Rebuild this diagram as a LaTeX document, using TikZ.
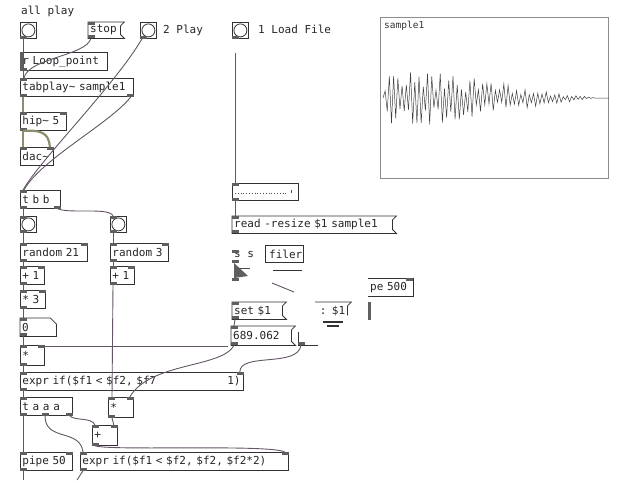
\documentclass[tikz,border=0pt]{standalone}
\usepackage{fontspec}
\newfontfamily\pdmono{DejaVu Sans Mono}
\usetikzlibrary{calc}
\definecolor{ctlcol}{RGB}{100,86,102}
\definecolor{sigcol}{RGB}{140,140,110}
\definecolor{iocol}{RGB}{95,95,95}
\definecolor{boxcol}{RGB}{50,50,50}
\tikzset{
  pdtext/.style={font=\pdmono\fontsize{11}{12}\selectfont, text=black!85},
  obj/.style={pdtext, draw=boxcol, line width=0.8pt, anchor=north west, inner xsep=2pt, inner ysep=0pt, minimum height=18pt, align=left},
  msgt/.style={pdtext, draw=none, anchor=north west, inner xsep=2pt, inner ysep=0pt, minimum height=18pt, align=left},
  boxline/.style={draw=boxcol, line width=0.8pt},
  bangbox/.style={draw=boxcol, line width=0.8pt, anchor=north west, minimum size=16pt, inner sep=0pt},
  io/.style={fill=iocol},
  ctl/.style={draw=ctlcol, line width=0.9pt},
  sig/.style={draw=sigcol, line width=2.2pt},
  cmt/.style={pdtext, anchor=base west, inner sep=0pt},
  wave/.style={draw=black!75, line width=0.5pt},
}
\newcommand\pdinL[1]{\fill[io] (#1.north west) rectangle ++(7,3);}
\newcommand\pdinR[1]{\fill[io] (#1.north east) rectangle ++(-7,3);}
\newcommand\pdoutL[1]{\fill[io] (#1.south west) rectangle ++(7,-3);}
\newcommand\pdoutR[1]{\fill[io] (#1.south east) rectangle ++(-7,-3);}
\newcommand\pdmsgshape[1]{\draw[boxline] (#1.north west) -- ($(#1.north east)+(4,0)$) -- ($(#1.north east)+(0,4)$) -- ($(#1.south east)+(0,-4)$) -- ($(#1.south east)+(4,0)$) -- (#1.south west) -- cycle;}
\newcommand\pdnumshape[1]{\draw[boxline] (#1.north west) -- ($(#1.north east)+(-6,0)$) -- ($(#1.north east)+(0,6)$) -- (#1.south east) -- (#1.south west) -- cycle;}
\newcommand\pdbang[1]{\draw[boxline] (#1.center) circle (6.5);}
\begin{document}
\begin{tikzpicture}[x=1pt,y=-1pt]
\useasboundingbox[fill=white] (0,0) rectangle (640,480);

% ---- comments
\node[cmt] (cAll) at (21,14) {all play};
\node[cmt] (cPlay) at (163,33) {2 Play};
\node[cmt] (cLoad) at (258,33) {1 Load File};

% ---- top row
\node[bangbox] (b1) at (20,22) {}; \pdbang{b1} \pdoutL{b1}
\node[msgt, text width=28pt, minimum height=16pt] (stop) at (88,22) {stop}; \pdmsgshape{stop} \pdinL{stop} \pdoutL{stop}
\node[bangbox] (b2) at (140,22) {}; \pdbang{b2} \pdoutL{b2}
\node[bangbox] (b3) at (232,22) {}; \pdbang{b3} \pdoutL{b3}

% ---- left chain
\node[obj, text width=83pt] (rloop) at (20,52) {r Loop\_point}; \fill[io] (rloop.north west) rectangle ++(3,18); \pdoutL{rloop}
\node[obj, text width=109pt] (tabp) at (20,78) {tabplay\textasciitilde{} sample1}; \pdinL{tabp} \pdoutL{tabp} \pdoutR{tabp}
\node[obj, text width=42pt] (hip) at (20,112) {hip\textasciitilde{} 5}; \pdinL{hip} \pdinR{hip} \pdoutL{hip}
\node[obj, text width=29pt] (dac) at (20,147) {dac\textasciitilde}; \pdinL{dac} \pdinR{dac}
\node[obj, text width=36pt] (tbb) at (20,190) {t b b}; \pdinL{tbb} \pdoutL{tbb} \pdoutR{tbb}
\node[bangbox] (bL) at (20,216) {}; \pdbang{bL} \pdinL{bL} \pdoutL{bL}
\node[bangbox] (bR) at (110,216) {}; \pdbang{bR} \pdinL{bR} \pdoutL{bR}
\node[obj, text width=63pt] (r21) at (20,243) {random 21}; \pdinL{r21} \pdinR{r21} \pdoutL{r21}
\node[obj, text width=54pt] (r3) at (110,243) {random 3}; \pdinL{r3} \pdinR{r3} \pdoutL{r3}
\node[obj, text width=20pt] (p1L) at (20,266) {+ 1}; \pdinL{p1L} \pdinR{p1L} \pdoutL{p1L}
\node[obj, text width=20pt] (p1R) at (110,266) {+ 1}; \pdinL{p1R} \pdinR{p1R} \pdoutL{p1R}
\node[obj, text width=21pt] (t3) at (20,290) {* 3}; \pdinL{t3} \pdinR{t3} \pdoutL{t3}
\node[msgt, text width=32pt] (n0) at (20,318) {0}; \pdnumshape{n0} \pdinL{n0} \pdoutL{n0}
\node[obj, text width=20pt, minimum height=20pt] (mL) at (20,345) {*}; \pdinL{mL} \pdinR{mL} \pdoutL{mL}
\node[obj, text width=219pt] (ex1) at (20,372) {expr if(\$f1 < \$f2, \$f7}; \pdinL{ex1} \pdinR{ex1} \pdoutL{ex1}
\node[pdtext, anchor=east, inner sep=0pt] (ex1b) at ($(ex1.east)+(-3,0)$) {1)};
\node[obj, text width=48pt] (taaa) at (20,397) {t a a a}; \pdinL{taaa} \pdoutL{taaa} \pdoutR{taaa}
\fill[io] ($(taaa.south west)+(22,0)$) rectangle ++(7,-3);
\node[obj, text width=21pt, minimum height=20pt] (mR) at (108,397) {*}; \pdinL{mR} \pdinR{mR} \pdoutL{mR}
\node[obj, text width=21pt, minimum height=20pt] (plus) at (92,425) {+}; \pdinL{plus} \pdinR{plus} \pdoutL{plus}
\node[obj, text width=48pt] (pipe) at (20,452) {pipe 50}; \pdinL{pipe} \pdinR{pipe} \pdoutL{pipe}
\node[obj, text width=204pt] (ex2) at (80,452) {expr if(\$f1 < \$f2, \$f2, \$f2*2)}; \pdinL{ex2} \pdinR{ex2} \pdoutL{ex2}
\coordinate (endA) at (23,480);
\coordinate (endB) at (77,480);

% ---- right part
\node[obj, minimum width=66pt, minimum height=17pt] (openp) at (232,183) {}; \pdinL{openp} \pdoutL{openp}
\draw[black!70, dotted, line width=0.8pt] ($(openp.west)+(3,1)$) -- ($(openp.east)+(-12,1)$);
\draw[black!70, line width=0.8pt] ($(openp.east)+(-7,-2)$) -- ++(0,3);
\node[msgt, text width=156pt, minimum height=17pt] (readm) at (232,216) {read -resize \$1 sample1}; \pdmsgshape{readm} \pdinL{readm} \pdoutL{readm}
\node[pdtext, anchor=north west, inner sep=0pt] (ss) at (234,251) {s s};
\fill[io] (232,250) rectangle ++(7,3);
\fill[io] (232,260) rectangle ++(7,3);
\fill[iocol] (234,263) -- (248,276) -- (234,278) -- cycle;
\draw[black!70, line width=0.6pt] (238,268) -- (250,268);
\fill[io] (232,278) rectangle ++(7,3);
\node[obj, text width=34pt, minimum height=17pt] (filer) at (265,245) {\,filer};
\draw[boxline] (273,270) -- (302,270);
\draw[ctl] (272,283) -- (294,292);
\node[msgt, text width=32pt, minimum height=17pt] (colm) at (311,302) {\hfill: \$1};
\draw[boxline] ($(colm.north west)+(4,0)$) -- ($(colm.north east)+(4,0)$) -- ($(colm.north east)+(0,4)$) -- ($(colm.south east)+(0,-4)$);
\draw[boxline, line width=1.4pt] (323,322) -- (343,322);
\draw[boxline, line width=1.4pt] (327,326) -- (339,326);
\node[msgt, text width=46pt, minimum height=17pt] (setm) at (232,302) {set \$1}; \pdmsgshape{setm} \pdinL{setm} \pdoutL{setm}
\node[msgt, text width=56pt, minimum height=19pt] (n689) at (231,326) {689.062}; \pdmsgshape{n689} \pdinL{n689} \pdoutL{n689}
\draw[boxline] (298,332) -- (298,345) -- (318,345);
\fill[io] (298,342) rectangle ++(7,3);
\coordinate (hid1) at (301,345);
\node[pdtext, anchor=north west, inner xsep=2pt, inner ysep=0pt, minimum height=18pt, text width=41pt] (pipe5) at (368,278) {pe 500};
\draw[boxline] (pipe5.north west) -- (pipe5.north east) -- (pipe5.south east) -- (pipe5.south west);
\pdinR{pipe5}
\fill[io] (368,302) rectangle (371,320);
\coordinate (hlineR) at (228,346);

% ---- graph
\node[draw=black!45, line width=0.8pt, anchor=north west, minimum width=228pt, minimum height=161pt, inner sep=0pt] (graph) at (380,17) {};
\node[font=\pdmono\fontsize{9.5}{10}\selectfont, text=black!80, anchor=north west, inner sep=0pt] (glabel) at (384,21) {sample1};
\pgfmathsetseed{7}
\draw[wave] (383,98) \foreach \i in {1,...,100} { -- ({383+\i*2.12},{98+ifthenelse(mod(\i,2)==0,1,-1)*(0.25+0.75*rnd)*36*min(1,0.5+\i/16)*(1-\i/101)^1.1})} -- (graph.east |- 0,98);

% ---- connections
\draw[ctl] (b1.south west) ++(3,0) -- ($(tabp.north west)+(3,0)$);
\draw[ctl] ($(stop.south west)+(3,0)$) .. controls (86,56) and (28,58) .. ($(tabp.north west)+(4,0)$);
\draw[ctl] ($(b2.south west)+(2,0)$) .. controls (115,85) and (40,160) .. ($(tbb.north west)+(3,0)$);
\draw[ctl] ($(tabp.south east)+(-3,0)$) .. controls (112,122) and (40,160) .. ($(tbb.north west)+(4,0)$);
\draw[sig] ($(tabp.south west)+(3,0)$) -- ($(hip.north west)+(3,0)$);
\draw[sig] ($(hip.south west)+(3,0)$) -- ($(dac.north west)+(3,0)$);
\draw[sig] ($(hip.south west)+(3,0)$) .. controls (40,130) and (49,132) .. ($(dac.north east)+(-4,0)$);
\draw[ctl] ($(tbb.south west)+(3,0)$) -- ($(bL.north west)+(3,0)$);
\draw[ctl] ($(tbb.south east)+(-3,0)$) .. controls (70,214) and (110,207) .. ($(bR.north west)+(3,0)$);
\draw[ctl] ($(bL.south west)+(3,0)$) -- ($(r21.north west)+(3,0)$);
\draw[ctl] ($(bR.south west)+(3,0)$) -- ($(r3.north west)+(3,0)$);
\draw[ctl] ($(r21.south west)+(3,0)$) -- ($(p1L.north west)+(3,0)$);
\draw[ctl] ($(p1L.south west)+(3,0)$) -- ($(t3.north west)+(3,0)$);
\draw[ctl] ($(t3.south west)+(3,0)$) -- ($(n0.north west)+(3,0)$);
\draw[ctl] ($(n0.south west)+(3,0)$) -- ($(mL.north west)+(3,0)$);
\draw[ctl] ($(mL.south west)+(3,0)$) -- ($(ex1.north west)+(3,0)$);
\draw[ctl] ($(ex1.south west)+(3,0)$) -- ($(taaa.north west)+(3,0)$);
\draw[ctl] ($(taaa.south west)+(3,0)$) -- ($(pipe.north west)+(3,0)$);
\draw[ctl] ($(pipe.south west)+(3,0)$) -- (endA);
\draw[ctl] ($(r3.south west)+(3,0)$) -- ($(p1R.north west)+(3,0)$);
\draw[ctl] ($(p1R.south west)+(3,0)$) -- ($(mR.north west)+(4,0)$);
\draw[ctl] (hlineR) -- ($(mL.north east)+(-3,1)$);
\draw[ctl] ($(n689.south west)+(3,0)$) .. controls (222,368) and (150,362) .. ($(mR.north east)+(-4,0)$);
\draw[ctl] (hid1) .. controls (298,368) and (240,352) .. ($(ex1.north east)+(-4,0)$);
\draw[ctl] ($(taaa.south west)+(25,0)$) .. controls (45,442) and (80,428) .. ($(ex2.north west)+(3,0)$);
\draw[ctl] ($(taaa.south east)+(-3,0)$) .. controls (74,421) and (92,417) .. ($(plus.north west)+(3,0)$);
\draw[ctl] ($(mR.south west)+(4,0)$) -- ($(plus.north east)+(-4,0)$);
\draw[ctl] ($(plus.south west)+(3,0)$) .. controls (110,451) and (270,444) .. ($(ex2.north east)+(-4,0)$);
\draw[ctl] ($(ex2.south west)+(3,0)$) -- (endB);
\draw[ctl] ($(b3.south west)+(3,14)$) -- ($(openp.north west)+(3,0)$);
\draw[ctl] ($(openp.south west)+(3,0)$) -- ($(readm.north west)+(3,0)$);
\draw[ctl] ($(setm.south west)+(3,0)$) -- ($(n689.north west)+(3,0)$);
\end{tikzpicture}
\end{document}
